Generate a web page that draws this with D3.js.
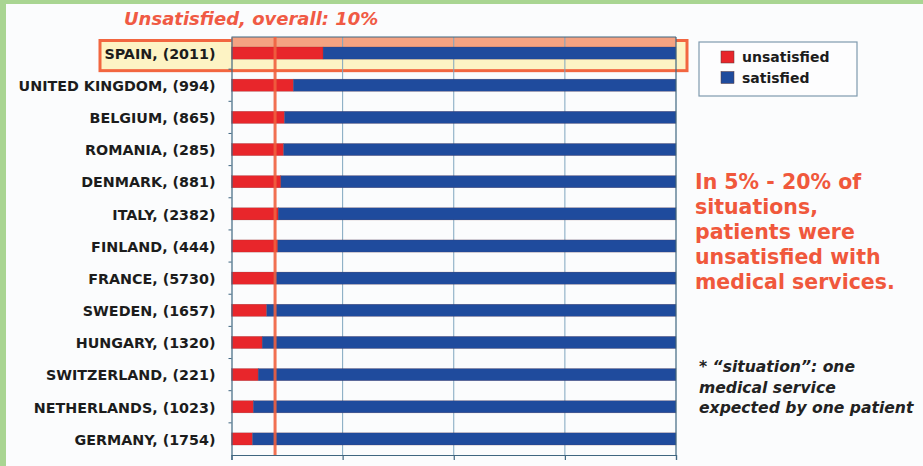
<!DOCTYPE html>
<html>
<head>
<meta charset="utf-8">
<script src="https://cdn.jsdelivr.net/npm/d3@7"></script>
<style>
  html, body { margin: 0; padding: 0; background: #fbfcfd; }
  svg { display: block; font-family: "DejaVu Sans", Verdana, sans-serif; }
</style>
</head>
<body>
<svg id="svg" width="923" height="466"></svg>
<script>
// countries, number of situations, share unsatisfied (%)
var countries = ["SPAIN", "UNITED KINGDOM", "BELGIUM", "ROMANIA", "DENMARK", "ITALY", "FINLAND",
                 "FRANCE", "SWEDEN", "HUNGARY", "SWITZERLAND", "NETHERLANDS", "GERMANY"];
var counts = [2011, 994, 865, 285, 881, 2382, 444, 5730, 1657, 1320, 221, 1023, 1754];
var unsatisfied = [20.6, 13.9, 11.9, 11.7, 11.1, 10.5, 10.4, 9.6, 7.9, 6.9, 6.0, 4.9, 4.7];
var overall = 9.8;
var xTicks = [0, 25, 50, 75, 100];
var seriesNames = ["unsatisfied", "satisfied"];
var noteLines = ["In 5% - 20% of", "situations,", "patients were", "unsatisfied with", "medical services."];
var footLines = ["* \u201csituation\u201d: one", "medical service", "expected by one patient"];

var RED = "#e8262b", BLUE = "#1f4b9d", ORANGE = "#f0583c";

var svg = d3.select("svg"),
    width = 923, height = 466,
    margin = {top: 37, right: 247, bottom: 11, left: 231.5};

// light green frame on top and left
svg.append("rect").attr("x", 0).attr("y", 0).attr("width", width).attr("height", height).attr("fill", "#a9d592");
svg.append("rect").attr("x", 6).attr("y", 4).attr("width", width - 6).attr("height", height - 4).attr("fill", "#fbfcfd");

var x = d3.scaleLinear().domain([0, 100]).range([margin.left, width - margin.right]);
var y = d3.scaleBand().domain(countries).range([margin.top, height - margin.bottom]).paddingInner(0.62).paddingOuter(0.31);
var bandY = d3.scaleBand().domain(countries).range([margin.top, height - margin.bottom]);

var data = countries.map(function (c, i) {
    return {country: c, count: counts[i], u: unsatisfied[i], s: 100 - unsatisfied[i]};
});

// highlight box around Spain
var sp = bandY("SPAIN");
svg.append("rect")
    .attr("x", 100).attr("y", sp + 3.5)
    .attr("width", x(100) + 11 - 100).attr("height", bandY.bandwidth() - 2)
    .attr("fill", "#fdf3c4").attr("stroke", "#f26640").attr("stroke-width", 3);
svg.append("rect")
    .attr("x", x(0)).attr("y", margin.top)
    .attr("width", x(100) - x(0)).attr("height", y("SPAIN") - margin.top)
    .attr("fill", "#f4a382");

// gridlines
svg.append("g").selectAll("line")
    .data(xTicks.slice(1, -1))
    .enter().append("line")
    .attr("x1", function (d) { return x(d); })
    .attr("x2", function (d) { return x(d); })
    .attr("y1", margin.top).attr("y2", height - margin.bottom)
    .attr("stroke", "#7fa6bf").attr("stroke-width", 1);

// stacked bars
var stack = d3.stack().keys(["u", "s"])(data);
svg.append("g").selectAll("g")
    .data(stack)
    .enter().append("g")
    .attr("fill", function (d, i) { return i === 0 ? RED : BLUE; })
    .selectAll("rect")
    .data(function (d) { return d; })
    .enter().append("rect")
    .attr("x", function (d) { return x(d[0]); })
    .attr("width", function (d) { return x(d[1]) - x(d[0]); })
    .attr("y", function (d) { return y(d.data.country); })
    .attr("height", y.bandwidth())
    .attr("stroke", "#6b3030").attr("stroke-width", 0.4).attr("stroke-opacity", 0.5);

// top and right frame of the plot
svg.append("line").attr("x1", x(0)).attr("x2", x(100)).attr("y1", margin.top).attr("y2", margin.top)
    .attr("stroke", "#3f6680").attr("stroke-width", 1.2);
svg.append("line").attr("x1", x(100)).attr("x2", x(100)).attr("y1", margin.top).attr("y2", height - margin.bottom)
    .attr("stroke", "#3f6680").attr("stroke-width", 1.2);

// left axis with category labels
var yAxis = svg.append("g")
    .attr("transform", "translate(" + x(0) + ",0)")
    .call(d3.axisLeft(bandY).tickSize(0).tickPadding(16)
        .tickFormat(function (d, i) { return d + ", (" + counts[i] + ")"; }));
yAxis.select(".domain").attr("stroke", "#3f6680").attr("stroke-width", 1.2);
yAxis.selectAll("text").attr("font-size", 14.3).attr("font-weight", "bold").attr("fill", "#1c1c1c")
    .attr("dy", "0.4em")
    .attr("font-family", "'DejaVu Sans', Verdana, sans-serif");
// small ticks at band boundaries
svg.append("g").selectAll("line")
    .data(countries.slice(1))
    .enter().append("line")
    .attr("x1", x(0) - 3).attr("x2", x(0))
    .attr("y1", function (d) { return bandY(d); })
    .attr("y2", function (d) { return bandY(d); })
    .attr("stroke", "#3f6680");

// bottom axis (ticks only)
var xAxis = svg.append("g")
    .attr("transform", "translate(0," + (height - margin.bottom) + ")")
    .call(d3.axisBottom(x).tickValues(xTicks).tickSize(5).tickFormat(""));
xAxis.selectAll("line, path").attr("stroke", "#3f6680").attr("stroke-width", 1.2);

// overall line
svg.append("line")
    .attr("x1", x(overall)).attr("x2", x(overall))
    .attr("y1", margin.top).attr("y2", height - margin.bottom)
    .attr("stroke", "#f0603f").attr("stroke-width", 3).attr("stroke-opacity", 0.9);

// title
svg.append("text")
    .attr("x", 124).attr("y", 25)
    .attr("font-size", 18).attr("font-weight", "bold").attr("font-style", "italic")
    .attr("fill", "#f05a44")
    .text("Unsatisfied, overall: 10%");

// legend
var lg = svg.append("g").attr("transform", "translate(699,42)");
lg.append("rect").attr("width", 158).attr("height", 54)
    .attr("fill", "#fdfdfe").attr("stroke", "#7f9aae").attr("stroke-width", 1.2);
var item = lg.selectAll(".item").data(seriesNames).enter().append("g")
    .attr("transform", function (d, i) { return "translate(22," + (9 + i * 20.5) + ")"; });
item.append("rect").attr("width", 13).attr("height", 12)
    .attr("fill", function (d, i) { return i === 0 ? RED : BLUE; })
    .attr("stroke", "#5a3a3a").attr("stroke-width", 0.5);
item.append("text").attr("x", 21).attr("y", 11)
    .attr("font-size", 14).attr("font-weight", "bold").attr("fill", "#1c1c1c")
    .text(function (d) { return d; });

// right note
svg.append("g").selectAll("text")
    .data(noteLines).enter().append("text")
    .attr("x", 695).attr("y", function (d, i) { return 189 + i * 25; })
    .attr("font-size", 20.5).attr("font-weight", "bold").attr("fill", ORANGE)
    .text(function (d) { return d; });

// footnote
svg.append("g").selectAll("text")
    .data(footLines).enter().append("text")
    .attr("x", 699).attr("y", function (d, i) { return 372 + i * 20.5; })
    .attr("font-size", 15.6).attr("font-weight", "bold").attr("font-style", "italic").attr("fill", "#222")
    .text(function (d) { return d; });
</script>
</body>
</html>
